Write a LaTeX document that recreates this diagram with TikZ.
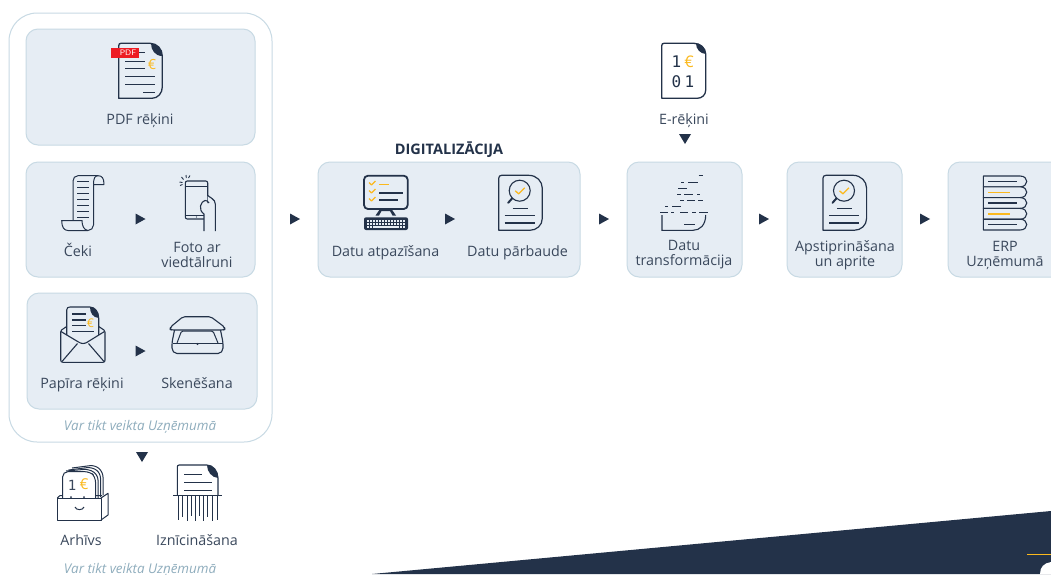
\documentclass[tikz,border=0pt]{standalone}
\usepackage{fontspec}
\setmainfont{Open Sans}
\newfontfamily\monof{DejaVu Sans Mono}
\usetikzlibrary{calc}
\definecolor{dark}{HTML}{233249}
\definecolor{boxfill}{HTML}{E6EDF4}
\definecolor{boxline}{HTML}{C8DAE4}
\definecolor{txt}{HTML}{3A485C}
\definecolor{orng}{HTML}{FBB91E}
\definecolor{redb}{HTML}{ED1C24}
\definecolor{note}{HTML}{8FADBD}
\tikzset{
  x=1pt,y=-1pt,
  outerbox/.style={draw=boxline,line width=1pt,fill=white,rounded corners=28pt},
  panel/.style={draw=boxline,line width=1pt,fill=boxfill,rounded corners=12pt},
  lab/.style={font=\fontsize{14.3}{15}\selectfont,text=txt,align=center,inner sep=0pt},
  notelab/.style={font=\fontsize{13.4}{15}\selectfont\itshape,text=note,align=center,inner sep=0pt},
  ttl/.style={font=\fontsize{14.5}{15}\selectfont\bfseries,text=dark,inner sep=0pt},
  ln/.style={draw=dark,line width=1pt},
  oln/.style={draw=orng,line width=1.3pt},
  euro/.style={font=\fontsize{#1}{#1}\selectfont,text=orng,inner sep=0pt},
  mono/.style={font=\fontsize{#1}{#1}\selectfont\monof,text=dark,inner sep=0pt},
  pics/rtri/.style={code={\fill[dark] (-5,-5.5)--(5,0)--(-5,5.5)--cycle;}},
  pics/dtri/.style={code={\fill[dark] (-6,-5)--(6,-5)--(0,5)--cycle;}},
  pics/magdoc/.style={code={
    \draw[ln,line width=1.2pt,line join=round] (0,55)--(0,3) .. controls (0,1) and (1,0) .. (3,0)--(30,0) .. controls (38,0) and (43.6,6) .. (43.6,13)--(43.6,43) .. controls (43.6,50) and (38,55) .. (31,55)--cycle;
    \draw[ln,line width=1.1pt] (21,15.4) circle[radius=10.5];
    \draw[ln,line width=2pt,line cap=round] (13.5,23) -- (9.5,27.5);
    \draw[oln,line join=round] (16.5,15.5)--(20,18.5)--(26,12.5);
    \draw[ln] (14,33)--(29,33);
    \draw[ln,line width=1.4pt] (6,40)--(36,40);
    \draw[ln,line width=1.4pt] (6,47.5)--(36,47.5);
  }}
}
\begin{document}
\begin{tikzpicture}
\useasboundingbox (0,0) rectangle (1051,574);
\fill[white] (0,0) rectangle (1051,574);

% bottom band
\fill[dark] (372,574)--(1051,511)--(1051,574)--cycle;
\draw[orng,line width=1pt] (1027,554)--(1051,554);
\fill[white] (1051,562) .. controls (1044,563) and (1040,567) .. (1040,574) -- (1051,574) -- cycle;

% outer container and panels
\draw[outerbox] (9,13) rectangle (272,442);
\draw[panel] (26,29) rectangle (255,145);
\draw[panel] (26,162) rectangle (255,277);
\draw[panel] (27,293) rectangle (257,409);
\draw[panel] (318,162) rectangle (580,277);
\draw[panel] (627,162) rectangle (742,277);
\draw[panel] (787,162) rectangle (902,277);
\draw[panel] (948,162) rectangle (1070,277);

% arrows
\pic at (140.5,219) {rtri};
\pic at (140.5,351) {rtri};
\pic at (295,219) {rtri};
\pic at (450,219) {rtri};
\pic at (604,219) {rtri};
\pic at (764,219) {rtri};
\pic at (925,219) {rtri};
\pic at (142,457) {dtri};
\pic at (685,139) {dtri};

% labels
\node[lab] (pdf) at (140,120.5) {PDF rēķini};
\node[lab] (ceki) at (78,250) {Čeki};
\node[lab] (foto) at (197,254.5) {Foto ar\\viedtālruni};
\node[lab] (papira) at (82,384.5) {Papīra rēķini};
\node[lab] (sken) at (197,383) {Skenēšana};
\node[notelab] (var1) at (140,426.5) {Var tikt veikta Uzņēmumā};
\node[lab] (arh) at (81,540) {Arhīvs};
\node[lab] (izn) at (197,540) {Iznīcināšana};
\node[notelab] (var2) at (140,569.5) {Var tikt veikta Uzņēmumā};
\node[ttl] (dig) at (449,150) {DIGITALIZĀCIJA};
\node[lab] (atp) at (385.5,253) {Datu atpazīšana};
\node[lab] (parb) at (517.5,253) {Datu pārbaude};
\node[lab] (erek) at (684,120.5) {E-rēķini};
\node[lab] (transf) at (684,255) {Datu\\transformācija};
\node[lab] (apst) at (845,255) {Apstiprināšana\\un aprite};
\node[lab] (erp) at (1005,255) {ERP\\Uzņēmumā};

% PDF document icon
\draw[ln,line width=1.3pt,line join=round] (118.7,98.3)--(118.7,46) .. controls (118.7,44) and (119.5,43.3) .. (121,43.3)--(150,43.3) .. controls (157,43.3) and (162.3,49) .. (162.3,56)--(162.3,87) .. controls (162.3,93) and (158,98.3) .. (152,98.3)--cycle;
\fill[dark] (151,43.3) .. controls (157,43.3) and (162.3,49) .. (162.3,56) .. controls (155,56) and (151,50) .. (151,43.3) -- cycle;
\draw[ln] (125,52)--(145,52);
\draw[ln] (125,61)--(145,61);
\draw[ln] (125,68)--(145,68);
\draw[ln] (125,76)--(155,76);
\draw[ln] (125,84)--(155,84);
\draw[ln] (143,92)--(155,92);
\fill[redb] (111,48) rectangle (139,58);
\node[font=\fontsize{8}{8}\selectfont\sffamily,text=white,inner sep=0pt] (pdfb) at (128,53) {PDF};
\node[euro=14] (eur1) at (152,64.5) {€};

% receipt icon
\draw[ln,line join=round] (73,220.5)--(73,181) .. controls (73,178) and (75,175.7) .. (78,175.7)--(98,175.7) .. controls (102,175.7) and (104,178) .. (104,184.5)--(93.5,184.5)--(93.5,225) .. controls (93.5,228) and (91,230.5) .. (88,230.5)--(68,230.5) .. controls (64,230.5) and (61.7,227) .. (61.7,220.5)--(82,220.5) .. controls (82,226) and (84,230) .. (88,230.5);
\draw[ln] (93.5,184.5) .. controls (93.5,178) and (95,175.7) .. (98,175.7);
\foreach \yy in {181.7,187.6,193.5,199.4,205.3,211.2,217}{\draw[ln,line width=.9pt] (77,\yy)--(89,\yy);}

% phone icon
\draw[ln,rounded corners=2pt,line width=1.1pt] (185.3,181) rectangle (207.7,219);
\draw[ln,line width=.9pt] (185.3,186)--(207.7,186);
\draw[ln,line width=.9pt] (185.3,215)--(207.7,215);
\fill[dark] (196.5,217) circle[radius=.6];
\draw[draw=dark,line width=.9pt] (181.5,177)--(183.5,179.5) (186,175)--(186.3,178) (179.5,182)--(182.5,182.5) (180,185.5)--(182.5,184.5) (190,175.5)--(188.5,178);
\path[fill=boxfill] (204,231)--(204,214)--(200,208)--(201,203)--(205,200.5)--(207.7,204)--(207.7,196)--(213,199.5)--(215.3,203)--(215.3,231)--cycle;
\draw[ln,line width=1.1pt,line join=round] (204,231)--(204,214) .. controls (201,212) and (200,209) .. (200.5,206) .. controls (201,203) and (203,201) .. (205,200.5) .. controls (206.5,200.5) and (208,201) .. (209,203);
\draw[ln,line width=1.1pt,line join=round] (207.7,195.5)--(212,198.5) .. controls (214,200) and (215.3,201.5) .. (215.3,204)--(215.3,231);

% envelope icon
\draw[ln,line width=1.1pt,fill=boxfill,line join=round] (66.7,335)--(66.7,310) .. controls (66.7,308) and (68,307) .. (70,307)--(90,307) .. controls (95,307) and (98.7,312) .. (98.7,318)--(98.7,335);
\fill[dark] (90,307) .. controls (95,307) and (98.7,312) .. (98.7,318) .. controls (93,317.5) and (90,313) .. (90,307) -- cycle;
\foreach \yy/\xe in {314/86,320/86,325.7/86,331.7/94}{\draw[ln,line width=1.4pt] (72,\yy)--(\xe,\yy);}
\node[euro=12] (eur2) at (90.5,323) {€};
\draw[ln,line width=1.1pt,line join=round] (66.7,326.5)--(61.5,330) .. controls (61,330.5) and (60.7,331) .. (60.7,332)--(60.7,360) .. controls (60.7,361.5) and (61.5,362.3) .. (63,362.3)--(103,362.3) .. controls (104.5,362.3) and (105,361.5) .. (105,360)--(105,332) .. controls (105,331) and (104.5,330.5) .. (104,330)--(98.7,326.5);
\draw[ln,line width=1.1pt,line join=round] (61,331.5)--(78.5,342) .. controls (81.5,344) and (84.5,344) .. (87.5,342)--(104.5,331.5);
\draw[ln,line width=1.1pt] (62,361.5)--(77.5,343.5) (104,361.5)--(88.5,343.5);

% scanner icon
\draw[ln,line width=1.1pt,line join=round,rounded corners=2pt] (170,329.5)--(170.5,327)--(183,316.7)--(210.7,316.7)--(224.5,327)--(225,329.5)--(223,330)--(172,330)--cycle;
\draw[ln,line width=1.1pt,line join=round,rounded corners=2pt] (174.5,330)--(172,342.5)--(172,350)--(175,353.5)--(220,353.5)--(223,350)--(223,342.5)--(220.5,330);
\draw[ln,line join=round,rounded corners=1.5pt] (177,343)--(181.5,331)--(213,331)--(218,343);
\draw[ln] (172.5,343.5)--(222.5,343.5);
\fill[dark] (197.5,344) circle[radius=1.1];

% archive icon
\draw[ln,rounded corners=5pt] (72,468)--(95,465)--(103,472)--(103,495);
\draw[ln,rounded corners=5pt] (68.5,470)--(92,467)--(100.5,473)--(100.5,497);
\draw[ln,rounded corners=5pt] (66,471)--(89,469)--(98,475)--(98,498);
\draw[ln,fill=white,rounded corners=5pt] (62.7,498)--(62.7,471.7)--(90,471.7)--(95.5,477)--(95.5,498);
\node[mono=14] (arh1) at (72,485) {\textcolor{txt}{1}};
\node[euro=15] (arh2) at (84,484.5) {€};
\fill[dark] (71,497) circle[radius=1] (84,497) circle[radius=1];
\draw[ln,line join=round] (57.3,498)--(57.3,520)--(101,520)--(101,498)--cycle;
\draw[ln,line join=round] (101,520)--(108,515)--(108,493.3)--(101,498);
\draw[ln] (57.3,498)--(60,495.5)--(62.7,495.5) (95.5,495.5)--(102,495.5);
\draw[ln] (75,507) .. controls (76,510.5) and (83,510.5) .. (84,507);

% shredder icon
\draw[ln,line width=1.1pt,line join=round] (177.3,495)--(177.3,467) .. controls (177.3,466) and (178,465) .. (179,465)--(207,465) .. controls (213,465) and (218,471) .. (218,478)--(218,495);
\fill[dark] (207,465) .. controls (213,465) and (218,471) .. (218,478) .. controls (212,477.5) and (207,472) .. (207,465) -- cycle;
\draw[ln,line width=.9pt] (184,474)--(202,474);
\draw[ln,line width=.9pt] (184,482)--(212,482);
\draw[ln,line width=.9pt] (184,490)--(212,490);
\draw[ln] (173,495)--(222,495);
\foreach \xx/\ye in {178/520,182.5/517,187/521,191/516,195/521,199/516,203/521,207/517,212/521,217/520}{\draw[ln,line width=.8pt] (\xx,495)--(\xx,\ye);}

% computer icon
\draw[ln,line width=1.8pt,rounded corners=4pt] (364,175.7) rectangle (407.7,209);
\foreach \yy in {184,192,200}{\draw[oln,line width=1.1pt,line join=round] (369,\yy-1.5)--(371.5,\yy+1)--(375.5,\yy-3);}
\draw[orng,line width=1.6pt] (379,184.6)--(389,184.6);
\draw[ln,line width=1.6pt] (379,192.7)--(403,192.7);
\draw[ln,line width=1.6pt] (379,200)--(398,200);
\fill[dark] (375.5,215.5)--(380,209)--(391.5,209)--(396,215.5)--(392.5,215.5)--(390,211)--(381.5,211)--(379,215.5)--cycle;
\fill[dark,rounded corners=2pt] (364,217.3) rectangle (408,230);
\foreach \yy in {220,223}{\foreach \i in {0,...,12}{\fill[boxfill] (367+\i*3,\yy) rectangle ++(1.6,1.6);}}
\fill[boxfill] (373,226) rectangle (399,227.6);
\foreach \xx in {367,370,400,403}{\fill[boxfill] (\xx,226) rectangle ++(1.6,1.6);}

% magnifier documents
\pic at (498.7,175.3) {magdoc};
\pic at (823,175.3) {magdoc};

% e-invoice icon
\draw[ln,line width=1.3pt,line join=round] (661.7,98.3)--(661.7,46) .. controls (661.7,44) and (662.5,43.3) .. (664,43.3)--(694,43.3) .. controls (700,43.3) and (705.7,48) .. (705.7,54)--(705.7,90) .. controls (705.7,95) and (702,98.3) .. (697,98.3)--cycle;
\fill[dark] (696,43.3) .. controls (701,43.3) and (705.7,48) .. (705.7,54) .. controls (700,53.5) and (696,49) .. (696,43.3) -- cycle;
\node[mono=16] (e1) at (676.5,62) {1};
\node[euro=16] (e2) at (689,62) {€};
\node[mono=16] (e3) at (676.5,82) {0};
\node[mono=16] (e4) at (689.5,82) {1};

% transformation icon
\foreach \xa/\xb/\yy in {698.7/702.7/175.7,681/684/182,688/698/182,678/687/188.3,677/681/194,684/693/194,697/700/194,680/684/200.3,687/695/200.3,698/703/200.3,665/668/206.7,672/681/206.7,660/668/212.7,671/674/212.7,680/688/212.7,692/696/212.7,699/708/212.7,684/695/224}{\draw[ln,line width=.8pt] (\xa,\yy)--(\xb,\yy);}
\draw[ln,line width=1.1pt] (662,215)--(662,230.3)--(693,230.3) .. controls (700,230.3) and (705.7,225) .. (705.7,215);

% ERP stack icon
\foreach \t in {176,186.8,197.6,208.4,219.2}{
  \draw[ln,line width=1.1pt,line join=round,fill=boxfill] (983.3,\t)--(1020,\t) .. controls (1029,\t) and (1029,\t+10.8) .. (1020,\t+10.8)--(983.3,\t+10.8)--cycle;
}
\foreach \yy/\xe/\cc in {181.5/1017/dark,192.3/1010/orng,203/1017/dark,213.8/1010/orng,224.6/1017/dark}{\draw[\cc,line width=1.5pt] (988,\yy)--(\xe,\yy);}
\end{tikzpicture}
\end{document}
